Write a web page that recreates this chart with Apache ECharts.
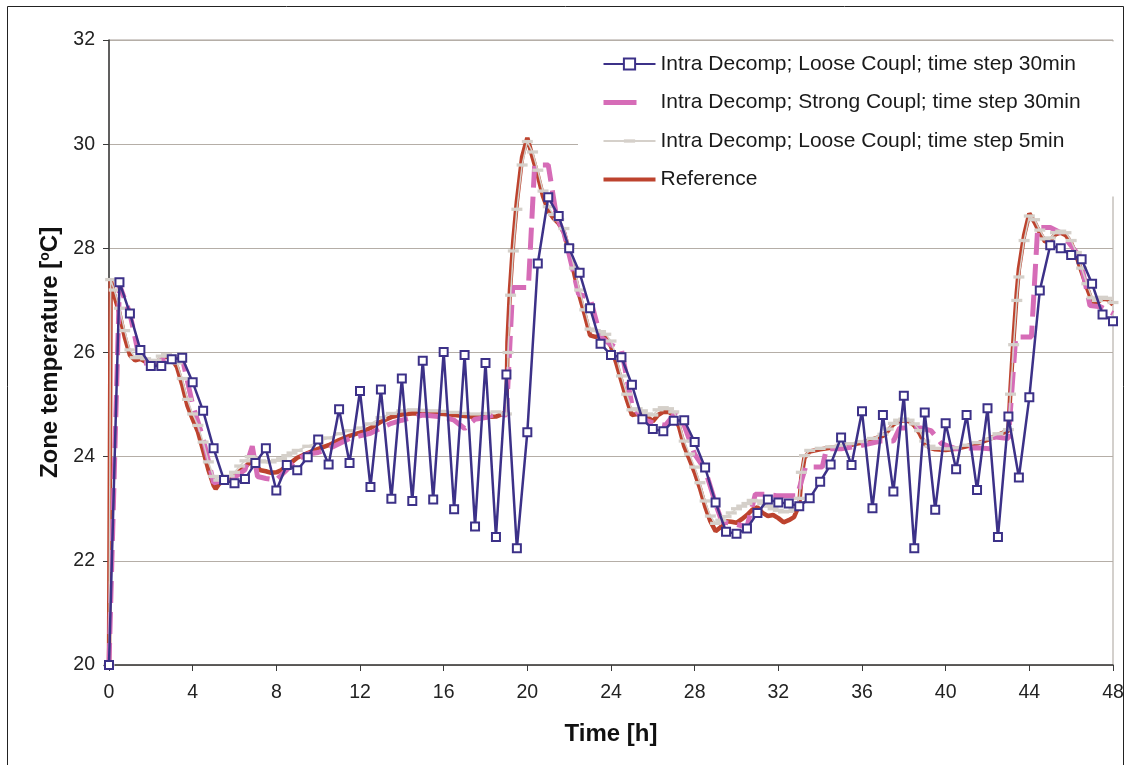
<!DOCTYPE html>
<html><head><meta charset="utf-8">
<script src="https://cdn.jsdelivr.net/npm/echarts@6/dist/echarts.min.js"></script>
<style>html,body{margin:0;padding:0;background:#fff}#c{width:1130px;height:765px}</style>
</head><body><div id="c"></div>
<script>
// ---------- DATA ----------
const seriesNames = [
  'Intra Decomp; Loose Coupl; time step 30min',
  'Intra Decomp; Strong Coupl; time step 30min',
  'Intra Decomp; Loose Coupl; time step 5min',
  'Reference'
];
const xTicks = [0, 48, 4];   // min, max, interval (hours)
const yTicks = [20, 32, 2];  // min, max, interval (degC)

// Loose coupling, 30 min step: one value every 0.5 h from 0 to 48 h
const looseStep30 = [
  20.0, 27.35, 26.75, 26.05, 25.74, 25.74, 25.87, 25.9, 25.43, 24.88,
  24.16, 23.55, 23.49, 23.57, 23.88, 24.16, 23.35, 23.84, 23.74, 23.99,
  24.33, 23.85, 24.91, 23.88, 25.26, 23.42, 25.29, 23.19, 25.5, 23.15,
  25.84, 23.18, 26.01, 22.99, 25.95, 22.66, 25.8, 22.46, 25.58, 22.24,
  24.47, 27.71, 28.98, 28.62, 28.0, 27.53, 26.85, 26.17, 25.95, 25.91,
  25.38, 24.72, 24.53, 24.49, 24.69, 24.7, 24.28, 23.79, 23.12, 22.56,
  22.52, 22.62, 22.92, 23.18, 23.12, 23.1, 23.05, 23.2, 23.52, 23.85,
  24.37, 23.84, 24.87, 23.01, 24.8, 23.33, 25.17, 22.24, 24.85, 22.98,
  24.64, 23.76, 24.8, 23.36, 24.93, 22.46, 24.77, 23.6, 25.14, 27.19,
  28.06, 28.0, 27.87, 27.79, 27.32, 26.73, 26.6
];
const looseStepHours = 0.5;

// Strong coupling, 30 min step: [hour, degC]
const strongStep30 = [
  [0,20],[0.5,27.3],[1,26.75],[1.5,25.8],[2,25.8],[2.5,25.85],[3,25.9],[3.5,25.9],[4,25.0],[4.5,24.35],
  [5,23.5],[5.5,23.55],[6,23.6],[6.5,23.75],[6.85,24.2],[7.1,23.62],[7.5,23.58],[8,23.55],[8.5,23.75],[9,23.95],
  [9.5,24.05],[10,24.08],[10.5,24.15],[11,24.25],[11.5,24.35],[12,24.4],[12.5,24.45],[13,24.55],[13.5,24.64],[14,24.7],
  [15,24.8],[16,24.76],[16.5,24.7],[17,24.54],[17.5,24.72],[18,24.75],[18.5,24.82],[19,24.8],[19.3,27.25],[20.05,27.25],
  [20.35,29.6],[21,29.6],[21.4,28.6],[21.75,28.3],[22.45,27.12],[23.0,27.05],[23.5,26.3],[24,26.15],[24.5,26.05],[25,25.0],
  [25.5,24.72],[26,24.65],[26.6,24.6],[27.1,24.85],[27.5,24.6],[28,24.05],[28.5,23.75],[29,23.1],[29.3,22.75],[30,22.7],
  [30.5,22.65],[30.9,23.28],[31.5,23.28],[31.9,23.25],[32.9,23.25],[33.3,23.8],[34.1,23.8],[34.3,24.15],[35,24.15],[36,24.22],
  [36.9,24.3],[37.5,24.3],[37.8,24.55],[38.8,24.55],[39.3,24.5],[39.8,24.25],[40.5,24.15],[41.5,24.17],[42.1,24.15],[42.3,24.38],
  [43.0,24.35],[43.35,26.3],[44.1,26.3],[44.4,28.4],[45,28.4],[45.5,28.3],[46,28.05],[46.4,27.85],[46.9,26.9],[47.4,26.88],
  [48,26.75]
];

// Loose coupling, 5 min step: [hour, degC]
const looseStep5 = [
  [0,20],[0.08,27.4],[0.25,27.2],[0.5,26.85],[0.75,26.42],[1,26.05],[1.25,25.9],[1.5,25.92],[1.75,25.88],[2,25.8],
  [2.25,25.85],[2.5,25.93],[2.75,25.96],[3,25.93],[3.25,25.8],[3.5,25.5],[3.75,25.1],[4,24.82],[4.25,24.6],[4.5,24.28],
  [4.75,23.9],[5,23.62],[5.25,23.55],[5.5,23.58],[5.75,23.63],[6,23.7],[6.25,23.82],[6.5,23.92],[6.75,24.0],[7,23.97],
  [7.25,23.92],[7.5,23.9],[7.75,23.9],[8,23.93],[8.25,23.96],[8.5,24.02],[8.75,24.07],[9,24.12],[9.5,24.2],[10,24.28],
  [10.5,24.36],[11,24.44],[11.5,24.5],[12,24.55],[12.5,24.63],[13,24.75],[13.5,24.83],[14,24.88],[14.5,24.9],[15,24.89],
  [15.5,24.88],[16,24.87],[16.5,24.85],[17,24.83],[17.5,24.82],[18,24.83],[18.5,24.86],[19,24.82],[19.08,26.0],[19.2,27.1],
  [19.33,27.95],[19.5,28.75],[19.75,29.6],[20,30.05],[20.25,29.85],[20.5,29.5],[20.75,29.1],[21,28.8],[21.25,28.65],[21.5,28.55],
  [21.75,28.38],[22,28.05],[22.25,27.62],[22.5,27.2],[22.75,26.82],[23,26.45],[23.25,26.42],[23.5,26.4],[23.75,26.35],[24,26.22],
  [24.25,25.92],[24.5,25.55],[24.75,25.2],[25,24.9],[25.25,24.92],[25.5,24.88],[25.75,24.82],[26,24.8],[26.25,24.9],[26.5,24.94],
  [26.75,24.92],[27,24.86],[27.25,24.68],[27.5,24.3],[27.75,24.05],[28,23.8],[28.25,23.5],[28.5,23.15],[28.75,22.86],[29,22.72],
  [29.25,22.78],[29.5,22.85],[29.75,22.92],[30,23.0],[30.25,23.05],[30.5,23.1],[30.75,23.16],[31,23.15],[31.25,23.1],[31.5,23.05],
  [31.75,23.0],[32,22.97],[32.25,22.94],[32.5,22.95],[32.75,23.0],[33,23.2],[33.1,23.7],[33.25,24.02],[33.5,24.12],[34,24.16],
  [34.5,24.19],[35,24.22],[35.5,24.25],[36,24.29],[36.5,24.35],[37,24.43],[37.25,24.53],[37.5,24.64],[37.75,24.7],[38,24.72],
  [38.25,24.7],[38.5,24.63],[38.75,24.5],[39,24.3],[39.25,24.2],[39.5,24.16],[40,24.15],[40.5,24.17],[41,24.22],[41.5,24.27],
  [42,24.34],[42.5,24.44],[43,24.52],[43.1,25.2],[43.25,26.15],[43.4,27.0],[43.5,27.45],[43.75,28.15],[44,28.62],[44.25,28.55],
  [44.5,28.35],[44.75,28.18],[45,28.2],[45.25,28.3],[45.5,28.33],[45.75,28.3],[46,28.15],[46.25,27.92],[46.5,27.62],[46.75,27.32],
  [47,27.05],[47.25,27.0],[47.5,27.06],[47.75,27.04],[48,26.96]
];

// Reference solution: [hour, degC]
const reference = [
  [0,20],[0.08,27.4],[0.25,27.1],[0.5,26.75],[0.75,26.3],[1,25.95],[1.25,25.85],[1.5,25.88],[1.75,25.82],[2,25.73],
  [2.25,25.8],[2.5,25.9],[2.75,25.92],[3,25.88],[3.25,25.72],[3.5,25.38],[3.75,24.98],[4,24.72],[4.25,24.48],[4.5,24.12],
  [4.75,23.75],[5,23.45],[5.1,23.38],[5.25,23.47],[5.5,23.55],[5.75,23.58],[6,23.62],[6.25,23.72],[6.5,23.8],[6.75,23.9],
  [7,23.82],[7.25,23.74],[7.5,23.72],[7.75,23.69],[8,23.7],[8.25,23.74],[8.5,23.84],[8.75,23.9],[9,23.98],[9.5,24.07],
  [10,24.15],[10.5,24.22],[11,24.32],[11.5,24.4],[12,24.46],[12.5,24.55],[13,24.67],[13.5,24.76],[14,24.81],[14.5,24.83],
  [15,24.83],[15.5,24.83],[16,24.82],[16.5,24.8],[17,24.78],[17.5,24.76],[18,24.76],[18.5,24.77],[19,24.85],[19.05,26.2],
  [19.17,27.2],[19.33,28.15],[19.5,28.9],[19.75,29.75],[20,30.12],[20.25,29.75],[20.5,29.4],[20.75,29.0],[21,28.72],[21.25,28.58],
  [21.5,28.48],[21.75,28.3],[22,27.95],[22.25,27.5],[22.5,27.08],[22.75,26.72],[23,26.33],[23.25,26.3],[23.5,26.32],[23.75,26.28],
  [24,26.12],[24.25,25.8],[24.5,25.45],[24.75,25.1],[25,24.8],[25.25,24.82],[25.5,24.8],[25.75,24.76],[26,24.68],[26.25,24.8],
  [26.5,24.86],[26.75,24.86],[27,24.8],[27.25,24.58],[27.5,24.2],[27.75,23.95],[28,23.7],[28.25,23.4],[28.5,23.05],[28.75,22.76],
  [29,22.57],[29.25,22.65],[29.5,22.76],[29.75,22.75],[30,22.73],[30.25,22.8],[30.5,22.88],[30.75,22.98],[31,23.03],[31.25,22.92],
  [31.5,22.86],[31.75,22.88],[32,22.82],[32.25,22.74],[32.5,22.78],[32.75,22.84],[33,23.08],[33.1,23.6],[33.25,23.98],[33.5,24.1],
  [34,24.14],[34.5,24.17],[35,24.2],[35.5,24.23],[36,24.27],[36.5,24.33],[37,24.4],[37.25,24.5],[37.5,24.62],[37.75,24.68],
  [38,24.7],[38.25,24.68],[38.5,24.6],[38.75,24.45],[39,24.25],[39.25,24.17],[39.5,24.14],[40,24.13],[40.5,24.15],[41,24.2],
  [41.5,24.25],[42,24.32],[42.5,24.42],[43,24.5],[43.1,25.3],[43.25,26.3],[43.4,27.15],[43.5,27.6],[43.75,28.25],[44,28.67],
  [44.25,28.5],[44.5,28.3],[44.75,28.13],[45,28.15],[45.25,28.27],[45.5,28.3],[45.75,28.25],[46,28.1],[46.25,27.85],[46.5,27.55],
  [46.75,27.25],[47,26.98],[47.25,26.97],[47.5,27.03],[47.75,27.02],[48,26.92]
];

// ---------- CHART ----------
const FONT = '"Liberation Sans", Arial, sans-serif';
const looseStep30Pairs = looseStep30.map((v, i) => [i * looseStepHours, v]);
// short horizontal dash marker; the lone move-to points only make its box square
const DASH_MARK = 'path://M0,-4M0,0h11v3.4h-11zM0,7.4';

const chart = echarts.init(document.getElementById('c'), null, {renderer: 'canvas'});
chart.setOption({
  animation: false,
  backgroundColor: '#ffffff',
  grid: {left: 109, right: 17, top: 40, bottom: 100, show: true, borderColor: '#a8a19a', borderWidth: 1},
  xAxis: {
    type: 'value', min: xTicks[0], max: xTicks[1], interval: xTicks[2],
    name: 'Time [h]', nameLocation: 'middle', nameGap: 57,
    nameTextStyle: {fontFamily: FONT, fontSize: 24, fontWeight: 'bold', color: '#111'},
    axisLine: {show: true, onZero: false, lineStyle: {color: '#3a3a3a', width: 1.5}},
    axisTick: {show: true, length: 6, lineStyle: {color: '#3a3a3a', width: 1}},
    axisLabel: {margin: 18, fontFamily: FONT, fontSize: 19.5, color: '#222'},
    splitLine: {show: false}
  },
  yAxis: {
    type: 'value', min: yTicks[0], max: yTicks[1], interval: yTicks[2],
    name: 'Zone temperature [{sup|o}C]', nameLocation: 'middle', nameGap: 46, nameRotate: 90,
    nameTextStyle: {fontFamily: FONT, fontSize: 24, fontWeight: 'bold', color: '#111',
      rich: {sup: {fontFamily: FONT, fontSize: 14, fontWeight: 'bold', color: '#111', verticalAlign: 'top', padding: [0, 0, 10, 0]}}},
    axisLine: {show: true, onZero: false, lineStyle: {color: '#3a3a3a', width: 1.5}},
    axisTick: {show: true, length: 6, lineStyle: {color: '#3a3a3a', width: 1}},
    axisLabel: {margin: 14, fontFamily: FONT, fontSize: 19.5, color: '#222'},
    splitLine: {show: true, lineStyle: {color: '#b5aea7', width: 1}}
  },
  legend: {
    orient: 'vertical', left: 601, top: 53.5, padding: 0,
    itemWidth: 52, itemHeight: 14, itemGap: 17.5, selectedMode: false,
    textStyle: {fontFamily: FONT, fontSize: 21, color: '#1a1a1a', lineHeight: 20.5},
    data: [
      {name: seriesNames[0]},
      {name: seriesNames[1], itemStyle: {opacity: 0}, lineStyle: {type: [33, 19], width: 5}},
      {name: seriesNames[2], lineStyle: {width: 2}},
      {name: seriesNames[3], itemStyle: {opacity: 0}, lineStyle: {width: 4}}
    ]
  },
  graphic: [
    {type: 'rect', z: 1, silent: true, shape: {x: 578, y: 41.5, width: 537, height: 155}, style: {fill: '#ffffff'}},
    {type: 'rect', z: 0, silent: true, shape: {x: 7.5, y: 6.5, width: 1116, height: 800}, style: {fill: 'none', stroke: '#222', lineWidth: 1}}
  ],
  series: [
    {
      name: seriesNames[0], type: 'line', data: looseStep30Pairs, z: 5,
      symbol: 'emptyRect', symbolSize: 8, showSymbol: true,
      lineStyle: {color: '#3c3188', width: 2.5},
      itemStyle: {color: '#3c3188', borderWidth: 1.5},
      emphasis: {disabled: true}
    },
    {
      name: seriesNames[1], type: 'line', data: strongStep30, z: 3,
      symbol: 'none',
      lineStyle: {color: '#d66cb7', width: 5, type: [22, 9]},
      itemStyle: {color: '#d66cb7'},
      emphasis: {disabled: true}
    },
    {
      name: seriesNames[2], type: 'line', data: looseStep5, z: 4,
      symbol: DASH_MARK, symbolSize: 11, showSymbol: true,
      lineStyle: {color: '#d5d0ca', width: 1.5},
      itemStyle: {color: '#d5d0ca'},
      emphasis: {disabled: true}
    },
    {
      name: seriesNames[3], type: 'line', data: reference, z: 2,
      symbol: 'none',
      lineStyle: {color: '#bd432e', width: 4.5},
      itemStyle: {color: '#bd432e'},
      emphasis: {disabled: true}
    }
  ]
});
</script>
</body></html>
